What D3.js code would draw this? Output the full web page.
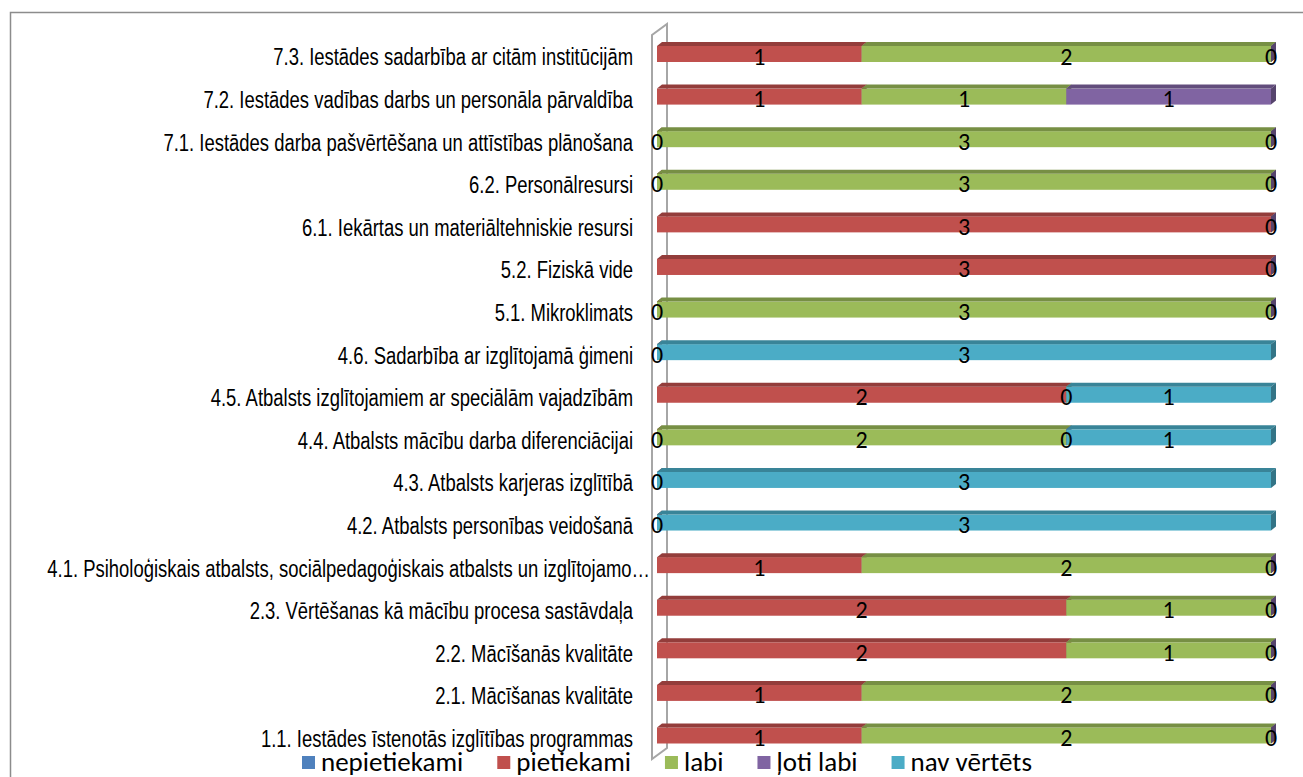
<!DOCTYPE html>
<html>
<head>
<meta charset="utf-8">
<script src="https://cdn.jsdelivr.net/npm/d3@7"></script>
<style>
  html, body { margin: 0; padding: 0; background: #fff; }
  svg { display: block; }
</style>
</head>
<body>
<svg id="chart" width="1303" height="777"></svg>
<script>
// categories, top to bottom as drawn
const categories = [
  "7.3. Iestādes sadarbība ar citām institūcijām",
  "7.2. Iestādes vadības darbs un personāla pārvaldība",
  "7.1. Iestādes darba pašvērtēšana un attīstības plānošana",
  "6.2. Personālresursi",
  "6.1. Iekārtas un materiāltehniskie resursi",
  "5.2. Fiziskā vide",
  "5.1. Mikroklimats",
  "4.6. Sadarbība ar izglītojamā ģimeni",
  "4.5. Atbalsts izglītojamiem ar speciālām vajadzībām",
  "4.4. Atbalsts mācību darba diferenciācijai",
  "4.3. Atbalsts karjeras izglītībā",
  "4.2. Atbalsts personības veidošanā",
  "4.1. Psiholoģiskais atbalsts, sociālpedagoģiskais atbalsts un izglītojamo…",
  "2.3. Vērtēšanas kā mācību procesa sastāvdaļa",
  "2.2. Mācīšanās kvalitāte",
  "2.1. Mācīšanas kvalitāte",
  "1.1. Iestādes īstenotās izglītības programmas"
];

// null = no value (no label)
const nepietiekami = [null, null, null, null, null, null, null, null, null, null, null, null, null, null, null, null, null];
const pietiekami   = [1, 1, 0, 0, 3, 3, 0, 0, 2, 0, 0, 0, 1, 2, 2, 1, 1];
const labi         = [2, 1, 3, 3, null, null, 3, null, 0, 2, null, null, 2, 1, 1, 2, 2];
const lotiLabi     = [0, 1, 0, 0, 0, 0, 0, null, null, 0, null, null, 0, 0, 0, 0, 0];
const navVertets   = [null, null, null, null, null, null, null, 3, 1, 1, 3, 3, null, null, null, null, null];

const seriesNames = ["nepietiekami", "pietiekami", "labi", "ļoti labi", "nav vērtēts"];
const seriesColors = ["#4F81BD", "#C0504D", "#9BBB59", "#8064A2", "#4BACC6"];
const seriesValues = [nepietiekami, pietiekami, labi, lotiLabi, navVertets];

const svg = d3.select("#chart");

// outer chart border
svg.append("rect")
  .attr("x", 10.5).attr("y", 12.5)
  .attr("width", 1400).attr("height", 900)
  .attr("fill", "#fff")
  .attr("stroke", "#8c8c8c")
  .attr("stroke-width", 1.5);

const x0 = 657, x1 = 1271;
const depthX = 5, depthY = 4, barH = 16;

const xScale = d3.scaleLinear().domain([0, 3]).range([x0, x1]);
const yScale = d3.scalePoint().domain(categories).range([54, 735.5]);

// left wall (3D floor)
const wallFront = x0 - 5, wallBack = x0 + 10;
const wallTop = 35, wallBottom = 759, wallShift = 11;
svg.append("path")
  .attr("d", `M${wallFront},${wallBottom} L${wallFront},${wallTop} L${wallBack},${wallTop - wallShift} L${wallBack},${wallBottom - wallShift} Z`)
  .attr("fill", "none")
  .attr("stroke", "#a6a6a6")
  .attr("stroke-width", 2);

// stack
const stacked = categories.map((c, i) => {
  let acc = 0;
  return seriesValues.map((vals, s) => {
    const v = vals[i];
    const start = acc;
    if (v != null) acc += v;
    return { cat: c, s, v, start, end: acc };
  });
});

const bars = svg.append("g");
stacked.forEach(row => {
  row.forEach(d => {
    if (d.v == null) return;
    const cy = yScale(d.cat);
    const xa = xScale(d.start), xb = xScale(d.end);
    const top = cy - barH / 2, bot = cy + barH / 2;
    const col = d3.color(seriesColors[d.s]);
    const g = bars.append("g");
    // front face
    g.append("rect")
      .attr("x", xa).attr("y", top)
      .attr("width", xb - xa).attr("height", barH)
      .attr("fill", col);
    // top face
    g.append("path")
      .attr("d", `M${xa},${top} L${xa + depthX},${top - depthY} L${xb + depthX},${top - depthY} L${xb},${top} Z`)
      .attr("fill", col.darker(0.75));
    // side face
    g.append("path")
      .attr("d", `M${xb},${top} L${xb + depthX},${top - depthY} L${xb + depthX},${bot - depthY} L${xb},${bot} Z`)
      .attr("fill", col.darker(1.1));
  });
});

// data labels
const labels = svg.append("g")
  .attr("font-family", "Carlito, Lato, sans-serif")
  .attr("font-size", 24)
  .attr("fill", "#000")
  .attr("text-anchor", "middle");
stacked.forEach(row => {
  row.forEach(d => {
    if (d.v == null) return;
    labels.append("text")
      .attr("x", (xScale(d.start) + xScale(d.end)) / 2)
      .attr("y", yScale(d.cat) + 2)
      .attr("dominant-baseline", "central")
      .text(d.v);
  });
});

// category labels (narrow face: Liberation Sans compressed)
svg.append("g")
  .attr("font-family", "'Liberation Sans', Arial, sans-serif")
  .attr("font-size", 22.5)
  .attr("fill", "#000")
  .attr("text-anchor", "end")
  .selectAll("text")
  .data(categories)
  .join("text")
  .attr("transform", d => `translate(${d.endsWith("…") ? 650 : 633},${yScale(d) + 3}) scale(0.82,1.08)`)
  .attr("dominant-baseline", "central")
  .text(d => d);

// legend
const legend = svg.append("g")
  .attr("font-family", "Carlito, Lato, sans-serif")
  .attr("font-size", 27);
let lx = 302;
const ly = 771;
seriesNames.forEach((name, i) => {
  legend.append("rect")
    .attr("x", lx).attr("y", ly - 15)
    .attr("width", 13).attr("height", 13)
    .attr("fill", seriesColors[i]);
  const t = legend.append("text")
    .attr("x", lx + 19).attr("y", ly)
    .text(name);
  lx += 19 + t.node().getComputedTextLength() + 34;
});
</script>
</body>
</html>
